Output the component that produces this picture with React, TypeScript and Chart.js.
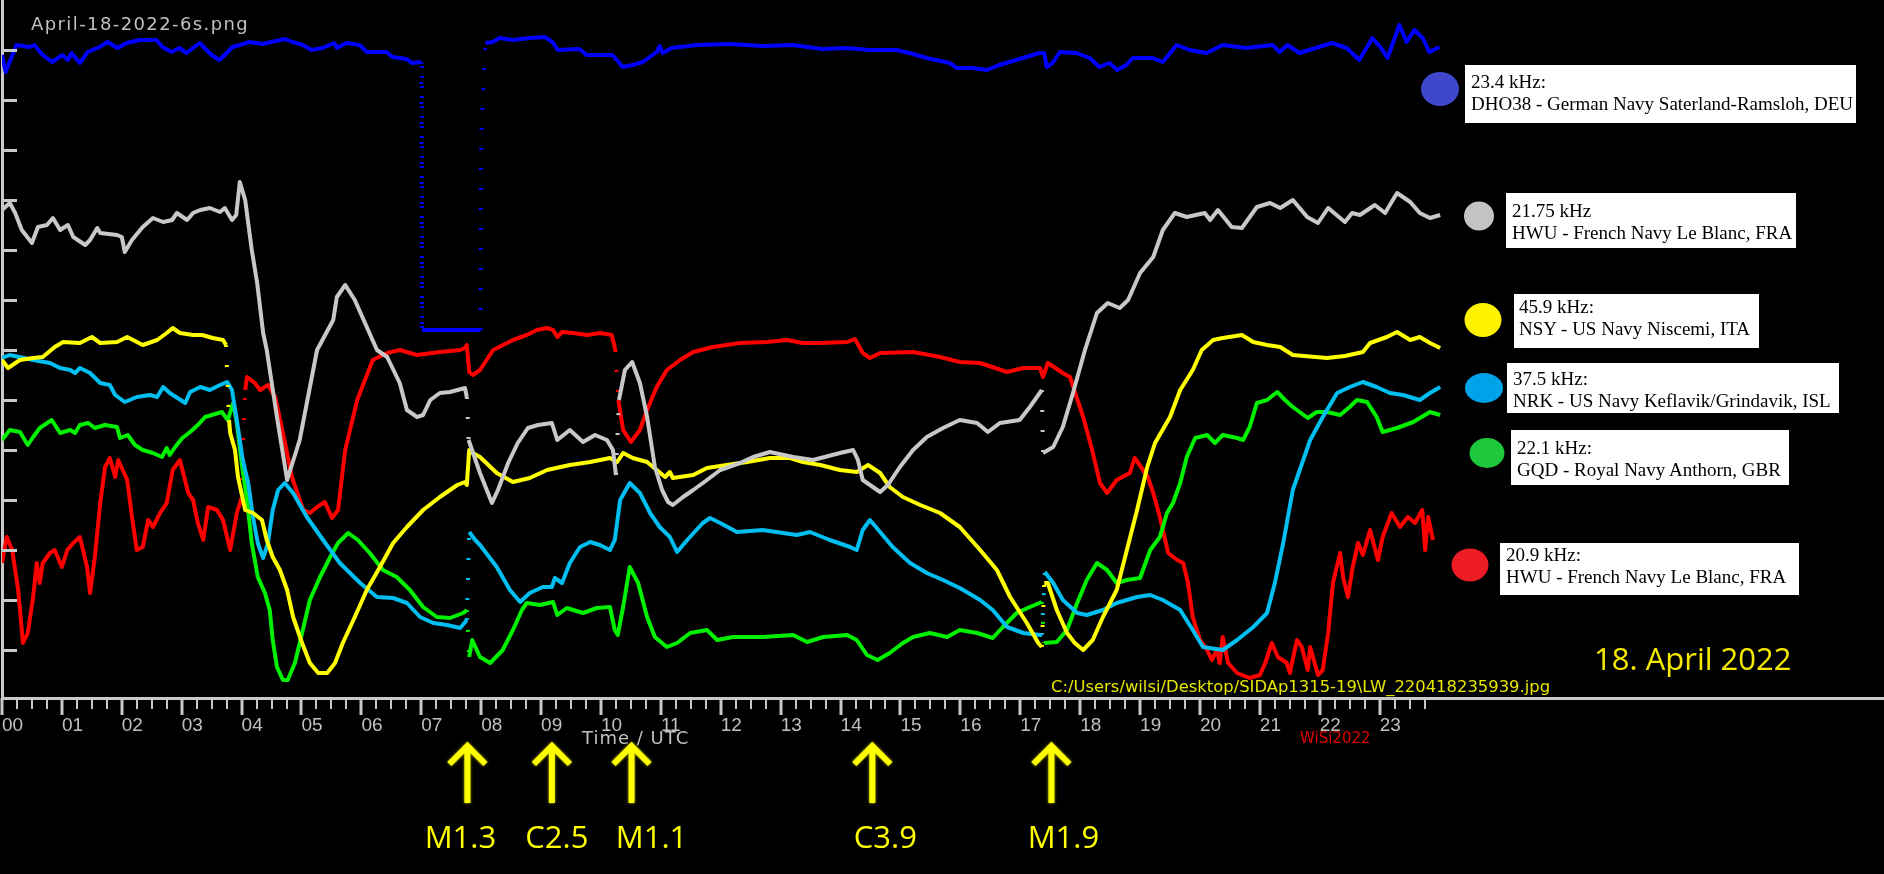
import React, { useEffect, useRef } from 'react';
import { Chart, registerables } from 'chart.js';

Chart.register(...registerables);

// ---------- axis labels ----------
const HOURS = ['00','01','02','03','04','05','06','07','08','09','10','11','12','13','14','15','16','17','18','19','20','21','22','23'];
const Y_TICKS = [5, 10, 15, 20, 25, 30, 35, 40, 45, 50, 55, 60, 65];

// ---------- flare markers ----------
const FLARE_TIMES = [7.77, 9.18, 10.51, 14.53, 17.52];
const FLARE_CLASSES = ['M1.3', 'C2.5', 'M1.1', 'C3.9', 'M1.9'];

// ---------- legend texts ----------
const LEGEND_FREQS = ['23.4 kHz:', '21.75 kHz', '45.9 kHz:', '37.5 kHz:', '22.1 kHz:', '20.9 kHz:'];
const LEGEND_STATIONS = [
  'DHO38 - German Navy Saterland-Ramsloh, DEU',
  'HWU - French Navy Le Blanc, FRA',
  'NSY - US Navy Niscemi, ITA',
  'NRK - US Navy Keflavik/Grindavik, ISL',
  'GQD - Royal Navy Anthorn, GBR',
  'HWU - French Navy Le Blanc, FRA',
];

// ---------- series: [hour UTC, signal level] ----------
const DHO38_23_4: number[][] = [
  [0,64.5],[0.06,62.8],[0.24,65.5],[0.46,65.3],[0.54,65.5],[0.68,64.5],[0.84,63.8],[1.01,64.5],[1.10,64.0],[1.16,64.7],
  [1.30,63.7],[1.43,64.8],[1.63,65.3],[1.76,65.8],[1.93,65.2],[2.08,65.7],[2.30,66.0],[2.58,66.0],[2.68,65.3],[2.83,64.8],
  [2.96,65.2],[3.08,64.7],[3.30,65.7],[3.50,64.5],[3.63,64.0],[3.85,65.3],[3.97,65.5],[4.13,65.8],[4.35,65.6],[4.72,66.1],
  [4.85,65.8],[5.02,65.5],[5.17,65.0],[5.35,65.2],[5.55,65.7],[5.59,65.2],[5.75,65.7],[5.97,65.5],[6.09,64.8],[6.42,64.8],
  [6.52,64.3],[6.75,64.1],[6.85,63.7],[7.00,63.8],[7.01,37.0],[7.99,37.0],[8.00,56.0],[8.07,65.7],[8.19,65.8],[8.31,66.2],
  [8.52,66.0],[8.81,66.2],[9.06,66.3],[9.19,65.8],[9.28,65.0],[9.64,65.1],[9.76,64.5],[10.19,64.5],[10.31,63.7],[10.36,63.3],
  [10.53,63.5],[10.70,63.8],[10.93,64.8],[10.98,65.4],[11.03,64.7],[11.18,65.2],[11.60,65.5],[12.15,65.6],[12.70,65.4],[13.20,65.5],
  [13.70,65.1],[14.10,65.2],[14.48,65.0],[14.93,65.0],[15.15,64.7],[15.44,64.2],[15.82,63.7],[15.94,63.2],[16.20,63.2],[16.44,63.0],
  [16.65,63.5],[17.21,64.5],[17.32,64.7],[17.40,64.7],[17.44,63.3],[17.54,63.7],[17.66,64.8],[17.94,64.7],[18.16,64.2],[18.32,63.3],
  [18.49,63.7],[18.62,63.0],[18.77,63.5],[18.88,64.2],[19.21,64.2],[19.38,63.8],[19.61,65.5],[19.83,65.0],[20.11,64.7],[20.38,65.5],
  [20.78,65.2],[21.21,65.5],[21.33,64.8],[21.46,65.5],[21.66,64.7],[22.20,65.7],[22.45,65.2],[22.66,64.0],[22.88,66.2],[23.05,65.0],
  [23.13,64.2],[23.33,67.5],[23.45,65.8],[23.58,67.0],[23.72,66.2],[23.83,64.8],[24.00,65.3],
];

const HWU_21_75: number[][] = [
  [0,49.0],[0.13,49.7],[0.22,48.7],[0.33,47.0],[0.50,45.7],[0.60,47.3],[0.75,47.5],[0.85,48.2],[0.97,47.0],[1.10,47.5],
  [1.19,46.3],[1.39,45.5],[1.47,46.0],[1.59,47.2],[1.64,46.7],[1.92,46.5],[2.00,46.3],[2.05,44.8],[2.17,46.0],[2.35,47.3],
  [2.52,48.2],[2.69,47.8],[2.84,48.0],[2.92,48.7],[3.09,48.0],[3.19,48.7],[3.31,49.0],[3.47,49.2],[3.64,48.8],[3.72,49.2],
  [3.84,48.0],[3.91,48.5],[3.97,51.8],[4.06,50.0],[4.17,45.0],[4.26,41.7],[4.36,36.7],[4.42,35.0],[4.59,28.3],[4.76,22.0],
  [4.97,26.0],[5.26,35.0],[5.53,38.0],[5.59,40.3],[5.73,41.5],[5.89,40.0],[6.09,37.3],[6.26,35.0],[6.43,34.3],[6.64,31.7],
  [6.76,29.0],[6.93,28.3],[7.03,28.5],[7.15,30.0],[7.31,30.7],[7.48,30.8],[7.73,31.2],[7.76,30.3],[7.79,26.0],[7.98,22.7],
  [8.18,19.7],[8.28,21.0],[8.45,23.7],[8.61,25.7],[8.78,27.2],[8.95,27.5],[9.18,27.7],[9.27,26.0],[9.48,27.0],[9.70,25.8],
  [9.90,26.5],[10.10,26.0],[10.20,25.0],[10.25,22.5],[10.30,30.0],[10.40,33.0],[10.52,33.8],[10.65,31.7],[10.77,28.3],[10.90,23.3],
  [11.02,21.0],[11.12,19.8],[11.20,19.5],[11.37,20.3],[11.54,21.0],[11.77,22.0],[11.99,23.0],[12.32,23.7],[12.54,24.3],[12.82,24.8],
  [13.21,24.3],[13.54,24.0],[13.99,24.7],[14.21,25.0],[14.29,24.0],[14.37,22.0],[14.66,20.8],[14.79,21.5],[14.99,23.3],[15.21,25.0],
  [15.44,26.3],[15.71,27.2],[15.99,28.0],[16.28,27.7],[16.46,26.8],[16.66,27.7],[16.99,28.0],[17.16,29.3],[17.36,31.0],[17.38,24.7],
  [17.55,25.3],[17.71,27.3],[17.88,30.7],[18.08,35.0],[18.28,38.7],[18.46,39.7],[18.66,39.2],[18.80,40.0],[19.00,42.7],[19.22,44.3],
  [19.38,47.0],[19.58,48.7],[19.78,48.3],[20.08,48.7],[20.17,48.0],[20.30,49.0],[20.53,47.3],[20.70,47.2],[20.95,49.3],[21.17,49.7],
  [21.34,49.2],[21.55,50.0],[21.79,48.3],[21.97,47.7],[22.14,49.2],[22.42,47.8],[22.54,48.7],[22.67,48.5],[22.92,49.5],[23.09,48.7],
  [23.29,50.7],[23.51,49.8],[23.67,48.7],[23.84,48.2],[24.01,48.5],
];

const NSY_45_9: number[][] = [
  [0,34.0],[0.10,33.2],[0.30,34.0],[0.52,34.2],[0.68,34.3],[0.88,35.3],[1.02,35.8],[1.30,35.7],[1.50,36.3],[1.64,35.7],
  [1.92,35.8],[2.09,36.3],[2.35,35.5],[2.59,36.0],[2.75,36.7],[2.85,37.2],[2.97,36.7],[3.19,36.5],[3.34,36.5],[3.52,36.2],
  [3.69,36.0],[3.74,35.5],[3.79,28.0],[3.81,26.7],[3.89,25.0],[3.94,22.3],[4.06,19.0],[4.19,18.7],[4.34,18.0],[4.42,16.0],
  [4.52,14.3],[4.64,13.0],[4.76,11.0],[4.86,8.3],[5.01,5.7],[5.14,3.7],[5.28,2.7],[5.43,2.7],[5.56,3.7],[5.69,5.7],
  [5.89,8.3],[6.09,11.0],[6.31,13.3],[6.53,15.7],[6.76,17.3],[7.03,19.0],[7.31,20.3],[7.60,21.5],[7.73,21.8],[7.76,21.5],
  [7.80,25.0],[7.86,24.7],[7.98,24.3],[8.26,22.7],[8.53,21.8],[8.81,22.2],[9.10,23.0],[9.48,23.5],[9.82,23.8],[10.15,24.2],
  [10.27,23.8],[10.37,24.7],[10.53,24.2],[10.77,23.8],[10.93,23.0],[11.07,22.3],[11.15,22.8],[11.20,22.2],[11.54,22.5],[11.77,23.2],
  [12.10,23.5],[12.44,23.8],[12.82,24.2],[13.16,24.2],[13.37,23.8],[13.66,23.5],[13.99,23.0],[14.27,22.8],[14.46,23.5],[14.66,22.7],
  [14.82,21.3],[15.04,20.3],[15.33,19.5],[15.66,18.7],[15.99,17.3],[16.33,15.0],[16.61,13.0],[16.83,10.3],[17.11,7.7],[17.30,5.7],
  [17.36,5.3],[17.40,11.7],[17.46,11.7],[17.61,9.0],[17.78,6.7],[17.91,5.7],[18.05,5.0],[18.21,6.0],[18.38,8.3],[18.61,11.0],
  [18.78,15.0],[18.95,19.0],[19.12,23.3],[19.25,25.7],[19.50,28.3],[19.67,31.0],[19.88,33.0],[20.03,35.0],[20.22,36.0],[20.38,36.2],
  [20.70,36.5],[20.89,35.8],[21.12,35.5],[21.34,35.3],[21.55,34.5],[22.12,34.2],[22.42,34.4],[22.72,34.8],[22.84,35.7],[23.12,36.3],
  [23.29,36.8],[23.51,36.0],[23.67,36.3],[23.84,35.7],[24.01,35.2],
];

const NRK_37_5: number[][] = [
  [0,34.2],[0.13,34.5],[0.52,34.0],[0.80,33.7],[0.97,33.2],[1.14,33.0],[1.22,32.7],[1.30,33.2],[1.47,32.7],[1.64,31.7],
  [1.80,31.5],[1.89,30.5],[2.05,29.8],[2.25,30.3],[2.47,30.5],[2.59,30.3],[2.69,31.3],[2.80,30.7],[3.06,29.7],[3.14,30.8],
  [3.31,31.3],[3.47,31.0],[3.64,31.5],[3.76,31.8],[3.84,31.0],[3.92,28.0],[4.02,24.0],[4.11,21.7],[4.19,18.3],[4.27,15.7],
  [4.36,14.2],[4.44,15.7],[4.52,19.0],[4.61,21.0],[4.72,21.7],[4.86,20.7],[5.09,18.3],[5.36,16.0],[5.64,13.7],[5.98,11.7],
  [6.26,10.3],[6.53,10.2],[6.76,9.7],[6.98,8.3],[7.20,7.7],[7.43,7.5],[7.65,7.2],[7.76,8.0],[7.80,16.8],[7.90,16.0],
  [7.98,15.5],[8.26,13.3],[8.48,11.0],[8.65,9.8],[8.81,10.7],[9.03,11.3],[9.18,11.3],[9.23,12.2],[9.35,11.7],[9.48,13.7],
  [9.65,15.3],[9.82,15.8],[9.98,15.5],[10.15,15.0],[10.23,16.0],[10.32,20.0],[10.48,21.7],[10.65,20.7],[10.82,18.7],[10.98,17.3],
  [11.15,16.3],[11.27,14.8],[11.44,16.0],[11.70,17.7],[11.82,18.2],[11.99,17.7],[12.27,16.8],[12.70,17.0],[13.27,16.5],[13.49,16.8],
  [13.82,16.0],[14.16,15.3],[14.27,15.0],[14.37,17.0],[14.49,18.0],[14.66,16.8],[14.87,15.3],[15.16,13.7],[15.44,12.7],[15.71,12.0],
  [15.99,11.2],[16.33,10.0],[16.54,9.0],[16.78,7.3],[17.05,6.7],[17.33,6.5],[17.36,6.5],[17.41,12.8],[17.55,11.7],[17.71,10.0],
  [17.95,8.7],[18.11,8.5],[18.38,9.0],[18.61,9.7],[18.95,10.3],[19.17,10.5],[19.38,10.0],[19.67,9.0],[19.88,7.0],[20.05,5.3],
  [20.38,5.0],[20.62,6.0],[20.89,7.3],[21.12,8.7],[21.25,11.7],[21.39,15.7],[21.55,21.0],[21.84,26.0],[22.05,28.3],[22.29,30.7],
  [22.50,31.3],[22.72,31.8],[22.95,31.3],[23.17,30.7],[23.39,30.5],[23.67,30.0],[23.84,30.7],[24.01,31.3],
];

const GQD_22_1: number[][] = [
  [0,26.0],[0.13,27.0],[0.30,26.8],[0.43,25.5],[0.52,26.3],[0.63,27.2],[0.83,28.0],[0.97,26.7],[1.14,27.0],[1.22,26.7],
  [1.30,27.5],[1.44,27.7],[1.55,27.2],[1.72,27.5],[1.92,27.3],[1.97,26.2],[2.10,26.5],[2.22,25.5],[2.35,25.0],[2.52,24.7],
  [2.67,24.3],[2.75,25.2],[2.80,24.5],[2.89,25.3],[3.01,26.2],[3.14,26.8],[3.27,27.5],[3.39,28.3],[3.67,28.8],[3.77,28.0],
  [3.86,29.7],[3.92,27.7],[4.01,23.3],[4.09,20.0],[4.17,15.7],[4.27,12.3],[4.39,10.7],[4.47,9.0],[4.52,6.0],[4.59,3.3],
  [4.69,2.0],[4.77,2.0],[4.89,3.7],[5.01,6.7],[5.14,10.0],[5.31,12.3],[5.48,14.3],[5.61,15.7],[5.78,16.7],[5.94,16.0],
  [6.14,14.7],[6.36,13.0],[6.59,12.3],[6.81,11.0],[7.03,9.3],[7.26,8.3],[7.48,8.2],[7.70,8.7],[7.76,9.0],[7.80,4.3],
  [7.85,6.0],[7.98,4.3],[8.15,3.7],[8.36,5.0],[8.53,7.0],[8.68,9.0],[8.76,9.7],[8.98,9.5],[9.20,9.8],[9.27,8.5],
  [9.43,9.2],[9.70,8.7],[9.93,9.2],[10.15,9.3],[10.23,7.0],[10.28,6.5],[10.37,9.3],[10.48,13.3],[10.62,11.7],[10.77,8.3],
  [10.90,6.3],[11.10,5.3],[11.27,5.7],[11.49,6.7],[11.77,7.0],[11.94,6.0],[12.20,6.3],[12.70,6.3],[13.21,6.5],[13.44,5.8],
  [13.71,6.3],[14.11,6.5],[14.27,6.0],[14.44,4.5],[14.62,4.0],[14.82,4.7],[15.04,5.7],[15.21,6.3],[15.49,6.7],[15.78,6.3],
  [15.99,7.0],[16.28,6.7],[16.54,6.2],[16.71,7.3],[16.94,8.7],[17.16,9.3],[17.36,9.8],[17.40,5.7],[17.61,5.8],[17.78,7.0],
  [17.95,9.7],[18.11,12.0],[18.28,13.7],[18.45,13.0],[18.61,11.7],[18.78,12.0],[19.00,12.2],[19.17,15.0],[19.33,16.3],[19.45,18.7],
  [19.55,19.7],[19.67,21.7],[19.78,24.3],[19.92,26.2],[20.12,26.5],[20.25,25.7],[20.38,26.5],[20.62,26.2],[20.72,26.0],[20.83,27.3],
  [20.95,29.7],[21.12,30.0],[21.29,30.8],[21.42,30.0],[21.55,29.3],[21.80,28.2],[21.95,28.8],[22.12,28.8],[22.34,28.5],[22.50,29.3],
  [22.62,30.0],[22.79,29.8],[22.95,28.3],[23.05,26.8],[23.29,27.2],[23.56,27.8],[23.84,28.8],[24.01,28.5],
];

const HWU_20_9: number[][] = [
  [0,13.7],[0.08,16.3],[0.17,15.0],[0.27,11.0],[0.35,5.7],[0.43,6.7],[0.52,10.3],[0.58,13.7],[0.63,11.7],[0.68,13.7],
  [0.80,14.7],[0.88,15.0],[1.00,13.3],[1.09,15.0],[1.19,15.7],[1.30,16.3],[1.42,13.3],[1.47,10.7],[1.55,14.3],[1.64,19.7],
  [1.72,23.3],[1.80,24.2],[1.89,22.3],[1.94,24.0],[2.09,22.0],[2.17,18.3],[2.25,15.0],[2.35,15.3],[2.44,18.0],[2.52,17.3],
  [2.64,18.7],[2.75,19.7],[2.85,23.0],[2.97,24.0],[3.11,20.7],[3.19,20.0],[3.27,17.7],[3.36,16.0],[3.44,19.3],[3.59,19.0],
  [3.69,18.0],[3.81,15.0],[3.92,18.7],[3.99,20.0],[4.06,31.0],[4.09,32.3],[4.22,31.7],[4.31,31.0],[4.44,31.5],[4.56,30.3],
  [4.69,26.7],[4.84,22.3],[5.03,19.0],[5.14,18.7],[5.26,19.3],[5.39,19.8],[5.51,18.2],[5.61,19.0],[5.73,25.0],[5.93,30.0],
  [6.19,34.0],[6.43,34.7],[6.64,35.0],[6.93,34.5],[7.31,34.8],[7.65,35.0],[7.73,35.2],[7.76,35.5],[7.80,32.8],[7.86,32.5],
  [7.98,33.0],[8.20,35.0],[8.53,36.0],[8.76,36.5],[8.93,37.0],[9.10,37.2],[9.20,37.0],[9.27,36.3],[9.35,36.8],[9.53,36.7],
  [9.77,36.5],[9.98,36.7],[10.18,36.5],[10.24,35.0],[10.29,30.0],[10.37,27.0],[10.50,25.8],[10.65,27.0],[10.77,29.0],[10.93,31.3],
  [11.10,33.0],[11.32,34.0],[11.54,34.8],[11.87,35.3],[12.32,35.7],[12.77,35.8],[13.11,36.0],[13.37,35.7],[13.66,35.7],[14.11,35.8],
  [14.24,36.1],[14.37,34.7],[14.49,34.2],[14.66,34.7],[15.21,34.8],[15.66,34.3],[15.99,33.8],[16.33,33.7],[16.78,32.8],[17.05,33.2],
  [17.33,33.2],[17.38,32.3],[17.46,33.7],[17.71,32.7],[17.83,32.3],[18.05,28.3],[18.20,25.0],[18.33,21.7],[18.45,20.7],[18.61,22.0],
  [18.83,22.7],[18.91,24.2],[19.05,23.0],[19.13,22.3],[19.22,20.7],[19.33,18.3],[19.38,17.0],[19.47,14.7],[19.62,14.0],[19.72,13.7],
  [19.80,11.7],[19.88,8.3],[20.00,6.0],[20.12,5.0],[20.20,4.0],[20.28,5.0],[20.33,3.7],[20.38,6.3],[20.47,3.7],[20.62,2.7],
  [20.83,2.2],[21.00,2.5],[21.09,3.7],[21.20,5.7],[21.30,4.3],[21.45,3.7],[21.50,2.7],[21.62,6.0],[21.70,5.3],[21.80,3.0],
  [21.84,5.3],[21.97,2.5],[22.05,3.0],[22.14,6.7],[22.22,11.7],[22.34,14.7],[22.39,12.3],[22.47,10.3],[22.55,13.3],[22.64,15.7],
  [22.72,14.5],[22.84,17.0],[22.97,14.0],[23.05,16.3],[23.20,18.7],[23.34,17.3],[23.47,18.3],[23.59,17.7],[23.71,19.0],[23.76,15.0],
  [23.81,18.3],[23.89,16.0],
];

const SERIES = [
  { name: '23.4 kHz DHO38', data: DHO38_23_4, color: '#0000ff' },
  { name: '21.75 kHz HWU', data: HWU_21_75, color: '#c8c8c8' },
  { name: '45.9 kHz NSY', data: NSY_45_9, color: '#ffff00' },
  { name: '37.5 kHz NRK', data: NRK_37_5, color: '#00bef0' },
  { name: '22.1 kHz GQD', data: GQD_22_1, color: '#00f000' },
  { name: '20.9 kHz HWU', data: HWU_20_9, color: '#ff0000' },
];

// ---------- layout (styling only) ----------
const FLARE_LABEL_SHIFT = [-7, 5, 20, 13, 12];
const LEGEND_LAYOUT = [
  { box: [1465, 65, 391, 58], text: [1471, 88], dot: [1440, 89, 19, 17], fill: '#3f48cc' },
  { box: [1506, 193, 290, 55], text: [1512, 217], dot: [1479, 216, 15, 14.5], fill: '#c3c3c3' },
  { box: [1514, 294, 245, 54], text: [1519, 313], dot: [1483, 320, 18.5, 17], fill: '#fff200' },
  { box: [1507, 363, 332, 50], text: [1513, 385], dot: [1484, 388, 19, 15], fill: '#00a2e8' },
  { box: [1511, 430, 278, 55], text: [1517, 454], dot: [1487, 453, 17.5, 15], fill: '#1ec83c' },
  { box: [1500, 543, 299, 52], text: [1506, 561], dot: [1470, 565, 18.5, 16.5], fill: '#ed1c24' },
];

const steepDash = (ctx: any) => {
  const dx = Math.abs(ctx.p1.parsed.x - ctx.p0.parsed.x);
  const dy = Math.abs(ctx.p1.parsed.y - ctx.p0.parsed.y);
  return dy > 100 * dx ? [2, 18] : undefined;
};

const axisDecor = {
  id: 'axisDecor',
  afterDraw(chart: any) {
    const { ctx, chartArea } = chart;
    const xs = chart.scales.x;
    const ys = chart.scales.y;
    ctx.save();
    ctx.strokeStyle = '#c8c8c8';
    const lastQuarter = (HOURS.length - 1) * 4 + 3;
    for (let q = 0; q <= lastQuarter; q++) {
      const major = q % 4 === 0;
      const px = Math.round(xs.getPixelForValue(q / 4));
      ctx.lineWidth = major ? 3 : 2;
      ctx.beginPath();
      ctx.moveTo(px, chartArea.bottom);
      ctx.lineTo(px, chartArea.bottom + (major ? 17 : 11));
      ctx.stroke();
    }
    ctx.lineWidth = 3;
    for (const v of Y_TICKS) {
      const py = Math.round(ys.getPixelForValue(v)) + 0.5;
      ctx.beginPath();
      ctx.moveTo(chartArea.left, py);
      ctx.lineTo(chartArea.left + 15, py);
      ctx.stroke();
    }
    // flare arrows
    const top = chartArea.bottom + 48;
    const bot = chartArea.bottom + 105;
    FLARE_TIMES.forEach((t, i) => {
      const px = xs.getPixelForValue(t);
      ctx.save();
      ctx.strokeStyle = '#ffff00';
      ctx.lineWidth = 6;
      ctx.shadowColor = 'rgba(255,255,0,0.7)';
      ctx.shadowBlur = 3;
      ctx.beginPath();
      ctx.moveTo(px, bot);
      ctx.lineTo(px, top + 3);
      ctx.stroke();
      ctx.beginPath();
      ctx.moveTo(px - 18, top + 18);
      ctx.lineTo(px, top);
      ctx.lineTo(px + 18, top + 18);
      ctx.stroke();
      ctx.restore();
      ctx.fillStyle = '#ffff00';
      ctx.font = '31px "Open Sans", sans-serif';
      ctx.textAlign = 'center';
      ctx.textBaseline = 'alphabetic';
      ctx.fillText(FLARE_CLASSES[i], px + FLARE_LABEL_SHIFT[i], chartArea.bottom + 150);
    });
    ctx.restore();
  },
};

export default function App() {
  const ref = useRef<HTMLCanvasElement>(null);

  useEffect(() => {
    const canvas = ref.current;
    if (!canvas) return;
    const chart = new Chart(canvas, {
      type: 'line',
      data: {
        datasets: SERIES.map((s) => ({
          label: s.name,
          data: s.data.map((p) => ({ x: p[0], y: p[1] })),
          borderColor: s.color,
          backgroundColor: s.color,
          borderWidth: 4,
          pointRadius: 0,
          tension: 0,
          borderJoinStyle: 'round',
          segment: { borderDash: steepDash },
        })),
      },
      options: {
        animation: false,
        responsive: false,
        devicePixelRatio: 1,
        events: [],
        layout: { padding: 0 },
        plugins: { legend: { display: false }, tooltip: { enabled: false } },
        scales: {
          x: {
            type: 'linear',
            min: 0,
            max: 31.42,
            afterFit: (s: any) => { s.height = 176; s.paddingLeft = 0; s.paddingRight = 0; },
            afterBuildTicks: (s: any) => { s.ticks = HOURS.map((_, i) => ({ value: i })); },
            grid: { display: false, drawTicks: false },
            border: { display: true, color: '#c8c8c8', width: 3 },
            ticks: {
              align: 'start',
              padding: 16,
              color: '#c0c0c0',
              font: { family: '"Liberation Sans", Arial, sans-serif', size: 19 },
              maxRotation: 0,
              minRotation: 0,
              autoSkip: false,
              callback: (_v: any, i: number) => HOURS[i],
            },
          },
          y: {
            min: 0.2,
            max: 70,
            afterFit: (s: any) => { s.width = 2; },
            ticks: { display: false },
            grid: { display: false, drawTicks: false },
            border: { display: true, color: '#c8c8c8', width: 3 },
          },
        },
      } as any,
      plugins: [axisDecor],
    });
    return () => chart.destroy();
  }, []);

  return (
    <div style={{ position: 'fixed', left: 0, top: 0, width: 1884, height: 874, background: '#000', overflow: 'hidden' }}>
      <canvas ref={ref} width={1884} height={874} style={{ position: 'absolute', left: 0, top: 0, width: 1884, height: 874 }} />
      <svg width={1884} height={874} style={{ position: 'absolute', left: 0, top: 0 }}>
        <text x={31} y={30} fontFamily="DejaVu Sans" fontSize={18} fill="#c0c0c0" style={{ letterSpacing: '1.4px' }}>April-18-2022-6s.png</text>
        <text x={582} y={744} fontFamily="DejaVu Sans" fontSize={18} fill="#c0c0c0" style={{ letterSpacing: '1px' }}>Time / UTC</text>
        <text x={1300} y={743} fontFamily="DejaVu Sans" fontSize={15} fill="#e00000">WiSi2022</text>
        <text x={1051} y={692} fontFamily="DejaVu Sans" fontSize={16.4} fill="#e6e600">C:/Users/wilsi/Desktop/SIDAp1315-19\LW_220418235939.jpg</text>
        <text x={1594} y={670} fontFamily="Open Sans" fontSize={31} fill="#f5e900">18. April 2022</text>
        {LEGEND_LAYOUT.map((l, i) => (
          <g key={i}>
            <ellipse cx={l.dot[0]} cy={l.dot[1]} rx={l.dot[2]} ry={l.dot[3]} fill={l.fill} />
            <rect x={l.box[0]} y={l.box[1]} width={l.box[2]} height={l.box[3]} fill="#ffffff" />
            <text x={l.text[0]} y={l.text[1]} fontFamily="Liberation Serif, Times New Roman, serif" fontSize={19} fill="#000">{LEGEND_FREQS[i]}</text>
            <text x={l.text[0]} y={l.text[1] + 22} fontFamily="Liberation Serif, Times New Roman, serif" fontSize={19} fill="#000">{LEGEND_STATIONS[i]}</text>
          </g>
        ))}
      </svg>
    </div>
  );
}
